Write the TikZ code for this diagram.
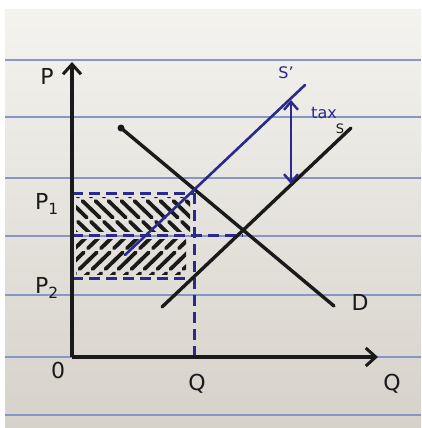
\documentclass[tikz,border=0pt]{standalone}
\usepackage{fontspec}
\setmainfont{DejaVu Sans}
\usetikzlibrary{arrows.meta}
\definecolor{ink}{HTML}{1A1A1A}
\definecolor{pen}{HTML}{2A2A8C}
\definecolor{rule}{HTML}{8796CA}
\definecolor{papertop}{HTML}{F4F3EF}
\definecolor{paperbot}{HTML}{D6D2CA}
\tikzset{
  axis/.style={ink, line width=3.4pt, -{Straight Barb[length=10pt,width=18pt,line width=3pt]}},
  curve/.style={ink, line width=3.4pt, line cap=round},
  bluecurve/.style={pen, line width=2.6pt, line cap=round},
  guide/.style={pen, line width=3pt, dash pattern=on 11pt off 6pt},
  hatch/.style={ink, line width=3.8pt, line cap=round, dash pattern=on 24pt off 6pt},
  lbl/.style={ink, font=\fontsize{22}{22}\selectfont},
  blbl/.style={pen, font=\fontsize{16}{16}\selectfont},
  ruled/.style={rule, line width=1.1pt}
}
\begin{document}
\begin{tikzpicture}[x=1pt,y=-1pt]
\useasboundingbox (0,0) rectangle (421,428);
\fill[white] (0,0) rectangle (421,428);
\shade[top color=papertop, bottom color=paperbot] (5,10) rectangle (421,428);
% ruled lines
\foreach \yy in {60,117,178,236,295,357,415}
  \draw[ruled] (5,\yy) -- (421,\yy);

% key coordinates
\coordinate (O) at (72,357);
\coordinate (Ytop) at (72,62);
\coordinate (Xend) at (378,357);
\coordinate (E) at (243,235);
\coordinate (A) at (194,193);
\coordinate (P1) at (72,193);
\coordinate (P2) at (72,278);
\coordinate (Pe) at (72,235);
\coordinate (Qb) at (194,357);
\coordinate (Q2) at (194,278);

% hatching
\begin{scope}
  \clip (76,197) rectangle (190,231);
  \foreach \k in {-160,-147,...,200}
    \draw[hatch] (\k,180) -- (\k+70,248);
\end{scope}
\begin{scope}
  \clip (76,239) rectangle (186,274);
  \foreach \k in {-20,-7,...,320}
    \draw[hatch] (\k,290) -- (\k+70,222);
\end{scope}

% dashed guides
\draw[guide] (P1) -- (A);
\draw[guide] (Pe) -- (E);
\draw[guide] (P2) -- (Q2);
\draw[guide] (A) -- (Qb);

% axes
\draw[axis] (O) -- (Ytop);
\draw[axis] (O) -- (Xend);

% curves
\coordinate (D1) at (121,128);
\coordinate (D2) at (334,306);
\coordinate (S1) at (162,307);
\coordinate (S2) at (351,128);
\coordinate (Sp1) at (125,255);
\coordinate (Sp2) at (305,85);
\fill[ink] (D1) circle (3.5pt);
\draw[curve] (D1) -- (D2);
\draw[curve] (S1) -- (S2);
\draw[bluecurve] (Sp1) -- (Sp2);

% tax arrow
\coordinate (T1) at (291,100);
\coordinate (T2) at (291,184);
\draw[pen, line width=2.4pt, {Straight Barb[length=8pt,width=14pt]}-{Straight Barb[length=8pt,width=14pt]}] (T1) -- (T2);

% labels
\node[lbl] (lP) at (47,76) {P};
\node[lbl] (lP1) at (47,204) {P\textsubscript{1}};
\node[lbl] (lP2) at (47,288) {P\textsubscript{2}};
\node[lbl] (l0) at (58,370) {0};
\node[lbl] (lQ) at (197,384) {Q};
\node[lbl] (lQx) at (392,384) {Q};
\node[lbl] (lD) at (360,302) {D};
\node[ink, font=\fontsize{13}{13}\selectfont] (lS) at (340,129) {S};
\node[blbl] (lSp) at (286,73) {S'};
\node[blbl] (ltax) at (324,113) {tax};
\end{tikzpicture}
\end{document}
